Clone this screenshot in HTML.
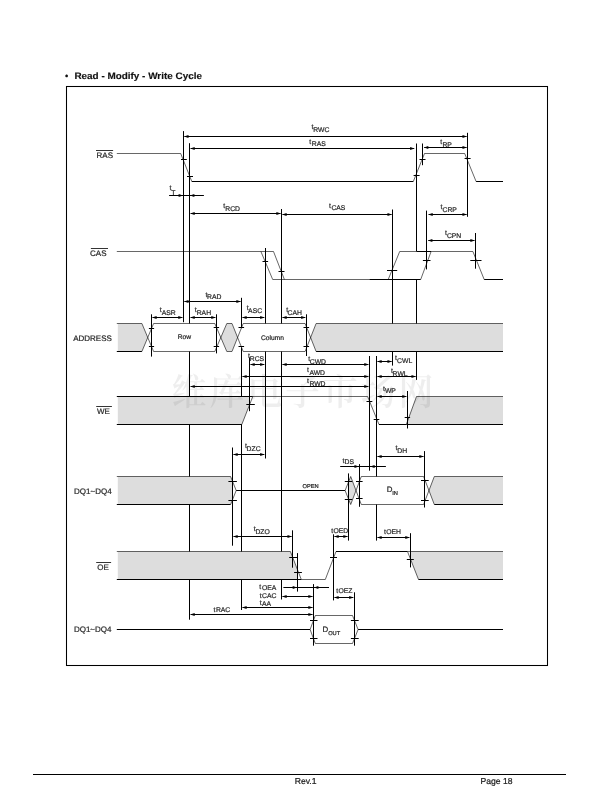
<!DOCTYPE html>
<html lang="en"><head><meta charset="utf-8"><title>Read - Modify - Write Cycle</title>
<style>html,body{margin:0;padding:0;background:#fff}body{width:612px;height:792px;overflow:hidden;position:relative}svg{position:absolute;left:0;top:0;display:block;will-change:transform}text{font-family:"Liberation Sans","Noto Sans CJK SC",sans-serif;text-rendering:geometricPrecision}.wm{font-family:"Liberation Serif","Noto Serif CJK SC",serif}</style></head><body>
<svg width="612" height="792" viewBox="0 0 612 792">
<rect x="0" y="0" width="612" height="792" fill="#fff"/>
<text x="65" y="79" font-size="9.4" text-anchor="start" font-weight="bold" fill="#111" stroke="#111" stroke-width="0.15">•</text>
<text x="74.4" y="78.7" font-size="9.4" text-anchor="start" font-weight="bold" fill="#111" stroke="#111" stroke-width="0.15" textLength="127.6" lengthAdjust="spacingAndGlyphs">Read - Modify - Write Cycle</text>
<rect x="66.5" y="86.5" width="481" height="579" fill="none" stroke="#000" stroke-width="1.05"/>
<line x1="33" y1="774.5" x2="566" y2="774.5" stroke="#000" stroke-width="1"/>
<text x="294.7" y="783.7" font-size="8.6" text-anchor="start" font-weight="normal" fill="#222" stroke="#222" stroke-width="0.22">Rev.1</text>
<text x="480.5" y="783.6" font-size="8.6" text-anchor="start" font-weight="normal" fill="#222" stroke="#222" stroke-width="0.22">Page 18</text>
<line x1="183.5" y1="131.1" x2="183.5" y2="322.2" stroke="#000" stroke-width="1.0"/>
<line x1="189.5" y1="143.2" x2="189.5" y2="619.7" stroke="#000" stroke-width="1.0"/>
<line x1="241.5" y1="297.8" x2="241.5" y2="610" stroke="#000" stroke-width="1.0"/>
<line x1="265.5" y1="248" x2="265.5" y2="458.5" stroke="#000" stroke-width="1.0"/>
<line x1="281.5" y1="209" x2="281.5" y2="599.5" stroke="#000" stroke-width="1.0"/>
<line x1="392.5" y1="209.5" x2="392.5" y2="365.6" stroke="#000" stroke-width="1.0"/>
<line x1="416.5" y1="143.5" x2="416.5" y2="251.5" stroke="#000" stroke-width="1.0"/>
<line x1="416.5" y1="279.3" x2="416.5" y2="379.9" stroke="#000" stroke-width="1.0"/>
<line x1="376.5" y1="356" x2="376.5" y2="540.6" stroke="#000" stroke-width="1.0"/>
<polygon points="117.8,323.5 141.9,323.5 147.7,337.5 141.9,351.5 117.8,351.5" fill="#dddddd" stroke="none"/>
<polygon points="147.7,337.5 153.6,323.5 214.8,323.5 220.8,337.5 214.8,351.5 153.6,351.5" fill="#fff" stroke="none"/>
<polygon points="220.8,337.5 226.8,323.5 232,323.5 237.6,337.5 232,351.5 226.8,351.5" fill="#dddddd" stroke="none"/>
<polygon points="237.6,337.5 243.2,323.5 305.1,323.5 310.6,337.5 305.1,351.5 243.2,351.5" fill="#fff" stroke="none"/>
<polygon points="310.6,337.5 316.1,323.5 503,323.5 503,351.5 316.1,351.5" fill="#dddddd" stroke="none"/>
<polygon points="117.8,396.5 249.5,396.5 249.5,404.9 241.8,424.5 117.8,424.5" fill="#dddddd" stroke="none"/>
<polygon points="416.5,396.5 503,396.5 503,424.5 406.3,424.5" fill="#dddddd" stroke="none"/>
<polygon points="117.8,476.5 230.6,476.5 232.5,481 232.5,500 230.6,504.5 117.8,504.5" fill="#dddddd" stroke="none"/>
<polygon points="348.5,482 350.7,476.5 356,490.5 350.7,504.5 348.5,499" fill="#dddddd" stroke="none"/>
<polygon points="356,490.5 361.3,476.5 423.6,476.5 428.9,490.5 423.6,504.5 361.3,504.5" fill="#fff" stroke="none"/>
<polygon points="428.9,490.5 434.3,476.5 503,476.5 503,504.5 434.3,504.5" fill="#dddddd" stroke="none"/>
<polygon points="117.8,551.5 290.4,551.5 297.4,569.5 297.4,579.5 117.8,579.5" fill="#dddddd" stroke="none"/>
<polygon points="410.4,551.5 503,551.5 503,579.5 418.5,579.5 410.4,558.9" fill="#dddddd" stroke="none"/>
<g transform="translate(171.6,0) scale(0.945,1)"><text class="wm" x="0" y="404.5" font-size="37" font-weight="600" fill="#000" fill-opacity="0.065" textLength="277" lengthAdjust="spacing">维库电子市场网</text></g>
<polyline points="116.8,153.5 180.7,153.5 191.8,181.5" fill="none" stroke="#000" stroke-width="0.6" stroke-linejoin="miter"/>
<line x1="191.8" y1="181.5" x2="413.3" y2="181.5" stroke="#000" stroke-width="1.0"/>
<polyline points="413.3,181.5 424.5,153.5 464.7,153.5 476.1,181.5" fill="none" stroke="#000" stroke-width="0.6" stroke-linejoin="miter"/>
<line x1="476.1" y1="181.5" x2="503" y2="181.5" stroke="#000" stroke-width="1.0"/>
<polyline points="116.8,251.5 273.5,251.5 284.4,279.5" fill="none" stroke="#000" stroke-width="0.6" stroke-linejoin="miter"/>
<polyline points="260.9,251.5 272.7,279.5 369.4,279.5" fill="none" stroke="#000" stroke-width="0.6" stroke-linejoin="miter"/>
<line x1="369.4" y1="279.5" x2="420.7" y2="279.5" stroke="#000" stroke-width="1.0"/>
<polyline points="388.2,279.5 399.7,251.5 416.7,251.5" fill="none" stroke="#000" stroke-width="0.6" stroke-linejoin="miter"/>
<line x1="416.7" y1="251.5" x2="431.1" y2="251.5" stroke="#000" stroke-width="1.0"/>
<polyline points="420.7,279.5 431.1,251.5 472.9,251.5 484.2,279.5" fill="none" stroke="#000" stroke-width="0.6" stroke-linejoin="miter"/>
<line x1="484.2" y1="279.5" x2="503" y2="279.5" stroke="#000" stroke-width="1.0"/>
<line x1="116.8" y1="323.5" x2="141.9" y2="323.5" stroke="#000" stroke-width="0.6"/>
<line x1="116.8" y1="351.5" x2="141.9" y2="351.5" stroke="#000" stroke-width="1.0"/>
<line x1="141.9" y1="323.5" x2="153.6" y2="351.5" stroke="#000" stroke-width="0.6"/>
<line x1="141.9" y1="351.5" x2="153.6" y2="323.5" stroke="#000" stroke-width="0.6"/>
<line x1="153.6" y1="323.5" x2="214.8" y2="323.5" stroke="#000" stroke-width="0.6"/>
<line x1="153.6" y1="351.5" x2="214.8" y2="351.5" stroke="#000" stroke-width="0.6"/>
<line x1="214.8" y1="323.5" x2="226.8" y2="351.5" stroke="#000" stroke-width="0.6"/>
<line x1="214.8" y1="351.5" x2="226.8" y2="323.5" stroke="#000" stroke-width="0.6"/>
<line x1="226.8" y1="323.5" x2="232" y2="323.5" stroke="#000" stroke-width="0.6"/>
<line x1="226.8" y1="351.5" x2="232" y2="351.5" stroke="#000" stroke-width="0.6"/>
<line x1="232" y1="323.5" x2="243.2" y2="351.5" stroke="#000" stroke-width="0.6"/>
<line x1="232" y1="351.5" x2="243.2" y2="323.5" stroke="#000" stroke-width="0.6"/>
<line x1="243.2" y1="323.5" x2="305.1" y2="323.5" stroke="#000" stroke-width="0.6"/>
<line x1="243.2" y1="351.5" x2="305.1" y2="351.5" stroke="#000" stroke-width="0.6"/>
<line x1="305.1" y1="323.5" x2="316.1" y2="351.5" stroke="#000" stroke-width="0.6"/>
<line x1="305.1" y1="351.5" x2="316.1" y2="323.5" stroke="#000" stroke-width="0.6"/>
<line x1="316.1" y1="323.5" x2="503" y2="323.5" stroke="#000" stroke-width="0.6"/>
<line x1="316.1" y1="351.5" x2="503" y2="351.5" stroke="#000" stroke-width="1.0"/>
<line x1="116.8" y1="396.5" x2="252.8" y2="396.5" stroke="#000" stroke-width="1.0"/>
<line x1="116.8" y1="424.5" x2="241.8" y2="424.5" stroke="#000" stroke-width="1.0"/>
<line x1="252.8" y1="396.5" x2="241.8" y2="424.5" stroke="#000" stroke-width="0.6"/>
<polyline points="252.8,396.5 367.6,396.5 379,424.5" fill="none" stroke="#000" stroke-width="0.6" stroke-linejoin="miter"/>
<line x1="379" y1="424.5" x2="406.3" y2="424.5" stroke="#000" stroke-width="1.0"/>
<line x1="406.3" y1="424.5" x2="416.5" y2="396.5" stroke="#000" stroke-width="0.6"/>
<line x1="416.5" y1="396.5" x2="503" y2="396.5" stroke="#000" stroke-width="0.6"/>
<line x1="406.3" y1="424.5" x2="503" y2="424.5" stroke="#000" stroke-width="1.0"/>
<line x1="116.8" y1="476.5" x2="230.6" y2="476.5" stroke="#000" stroke-width="0.6"/>
<line x1="116.8" y1="504.5" x2="230.6" y2="504.5" stroke="#000" stroke-width="1.0"/>
<polyline points="230.6,476.5 236.2,490.5 230.6,504.5" fill="none" stroke="#000" stroke-width="0.6" stroke-linejoin="miter"/>
<line x1="236.2" y1="490.5" x2="345.1" y2="490.5" stroke="#000" stroke-width="1.0"/>
<polyline points="345.1,490.5 350.7,476.5 361.3,504.5 423.6,504.5 434.3,476.5" fill="none" stroke="#000" stroke-width="0.6" stroke-linejoin="miter"/>
<polyline points="345.1,490.5 350.7,504.5 361.3,476.5 423.6,476.5 434.3,504.5" fill="none" stroke="#000" stroke-width="0.6" stroke-linejoin="miter"/>
<line x1="434.3" y1="476.5" x2="503" y2="476.5" stroke="#000" stroke-width="0.6"/>
<line x1="434.3" y1="504.5" x2="503" y2="504.5" stroke="#000" stroke-width="1.0"/>
<line x1="116.8" y1="551.5" x2="290.4" y2="551.5" stroke="#000" stroke-width="0.6"/>
<line x1="116.8" y1="579.5" x2="301.3" y2="579.5" stroke="#000" stroke-width="1.0"/>
<polyline points="290.4,551.5 301.3,579.5 325.3,579.5 336,551.5" fill="none" stroke="#000" stroke-width="0.6" stroke-linejoin="miter"/>
<line x1="336" y1="551.5" x2="407.5" y2="551.5" stroke="#000" stroke-width="1.0"/>
<line x1="407.5" y1="551.5" x2="418.5" y2="579.5" stroke="#000" stroke-width="0.6"/>
<line x1="407.5" y1="551.5" x2="503" y2="551.5" stroke="#000" stroke-width="0.6"/>
<line x1="418.5" y1="579.5" x2="503" y2="579.5" stroke="#000" stroke-width="1.0"/>
<line x1="116.8" y1="629.5" x2="310.1" y2="629.5" stroke="#000" stroke-width="1.0"/>
<polyline points="310.1,629.5 315.3,615.5 352.5,615.5 358.1,629.5 352.5,643.5 315.3,643.5 310.1,629.5" fill="none" stroke="#000" stroke-width="0.6" stroke-linejoin="miter"/>
<line x1="358.1" y1="629.5" x2="503" y2="629.5" stroke="#000" stroke-width="1.0"/>
<line x1="249.5" y1="357.5" x2="249.5" y2="411.2" stroke="#000" stroke-width="1.0"/>
<line x1="422.5" y1="143.5" x2="422.5" y2="165.2" stroke="#000" stroke-width="1.0"/>
<line x1="467.5" y1="132.8" x2="467.5" y2="216.8" stroke="#000" stroke-width="1.0"/>
<line x1="426.5" y1="210.6" x2="426.5" y2="269.4" stroke="#000" stroke-width="1.0"/>
<line x1="475.5" y1="233" x2="475.5" y2="268.7" stroke="#000" stroke-width="1.0"/>
<line x1="151.5" y1="314.3" x2="151.5" y2="356.6" stroke="#000" stroke-width="1.0"/>
<line x1="216.5" y1="314.3" x2="216.5" y2="353.4" stroke="#000" stroke-width="1.0"/>
<line x1="306.5" y1="314.3" x2="306.5" y2="356" stroke="#000" stroke-width="1.0"/>
<line x1="369.5" y1="356" x2="369.5" y2="470.7" stroke="#000" stroke-width="1.0"/>
<line x1="407.5" y1="391" x2="407.5" y2="428.5" stroke="#000" stroke-width="1.0"/>
<line x1="424.5" y1="451.1" x2="424.5" y2="507.5" stroke="#000" stroke-width="1.0"/>
<line x1="232.5" y1="447.5" x2="232.5" y2="545.7" stroke="#000" stroke-width="1.0"/>
<line x1="348.5" y1="473.4" x2="348.5" y2="540.6" stroke="#000" stroke-width="1.0"/>
<line x1="359.5" y1="464.1" x2="359.5" y2="506.8" stroke="#000" stroke-width="1.0"/>
<line x1="292.5" y1="530.3" x2="292.5" y2="567.7" stroke="#000" stroke-width="1.0"/>
<line x1="297.5" y1="553.1" x2="297.5" y2="591.6" stroke="#000" stroke-width="1.0"/>
<line x1="333.5" y1="534.3" x2="333.5" y2="600.4" stroke="#000" stroke-width="1.0"/>
<line x1="410.5" y1="533.2" x2="410.5" y2="567.4" stroke="#000" stroke-width="1.0"/>
<line x1="313.5" y1="584.1" x2="313.5" y2="645.7" stroke="#000" stroke-width="1.0"/>
<line x1="354.5" y1="592.3" x2="354.5" y2="645.7" stroke="#000" stroke-width="1.0"/>
<line x1="181" y1="159.5" x2="186.8" y2="159.5" stroke="#000" stroke-width="1.0"/>
<line x1="187" y1="176.5" x2="193" y2="176.5" stroke="#000" stroke-width="1.0"/>
<line x1="413.6" y1="175.5" x2="419.6" y2="175.5" stroke="#000" stroke-width="1.0"/>
<line x1="419.5" y1="159.5" x2="425.5" y2="159.5" stroke="#000" stroke-width="1.0"/>
<line x1="464.6" y1="158.5" x2="470.6" y2="158.5" stroke="#000" stroke-width="1.0"/>
<line x1="262.5" y1="261.5" x2="268.1" y2="261.5" stroke="#000" stroke-width="1.0"/>
<line x1="278.5" y1="271.5" x2="284.5" y2="271.5" stroke="#000" stroke-width="1.0"/>
<line x1="387" y1="270.5" x2="397.2" y2="270.5" stroke="#000" stroke-width="1.0"/>
<line x1="422.9" y1="260.5" x2="430.5" y2="260.5" stroke="#000" stroke-width="1.0"/>
<line x1="470.3" y1="260.5" x2="481.5" y2="260.5" stroke="#000" stroke-width="1.0"/>
<line x1="148.9" y1="328.5" x2="154.1" y2="328.5" stroke="#000" stroke-width="1.0"/>
<line x1="148.9" y1="346.5" x2="154.1" y2="346.5" stroke="#000" stroke-width="1.0"/>
<line x1="213.7" y1="327.5" x2="219.1" y2="327.5" stroke="#000" stroke-width="1.0"/>
<line x1="213.7" y1="346.5" x2="219.1" y2="346.5" stroke="#000" stroke-width="1.0"/>
<line x1="238.5" y1="327.5" x2="244.1" y2="327.5" stroke="#000" stroke-width="1.0"/>
<line x1="238.5" y1="346.5" x2="244.1" y2="346.5" stroke="#000" stroke-width="1.0"/>
<line x1="303.5" y1="327.5" x2="309.1" y2="327.5" stroke="#000" stroke-width="1.0"/>
<line x1="303.5" y1="346.5" x2="309.1" y2="346.5" stroke="#000" stroke-width="1.0"/>
<line x1="246.3" y1="404.5" x2="254.8" y2="404.5" stroke="#000" stroke-width="1.0"/>
<line x1="366.5" y1="401.5" x2="372.3" y2="401.5" stroke="#000" stroke-width="1.0"/>
<line x1="373.7" y1="419.5" x2="379.3" y2="419.5" stroke="#000" stroke-width="1.0"/>
<line x1="404.7" y1="417.5" x2="410.1" y2="417.5" stroke="#000" stroke-width="1.0"/>
<line x1="228.4" y1="481.5" x2="236.9" y2="481.5" stroke="#000" stroke-width="1.0"/>
<line x1="228.4" y1="500.5" x2="236.9" y2="500.5" stroke="#000" stroke-width="1.0"/>
<line x1="344.8" y1="481.5" x2="352.2" y2="481.5" stroke="#000" stroke-width="1.0"/>
<line x1="344.8" y1="499.5" x2="352.2" y2="499.5" stroke="#000" stroke-width="1.0"/>
<line x1="356" y1="481.5" x2="362.6" y2="481.5" stroke="#000" stroke-width="1.0"/>
<line x1="356" y1="498.5" x2="362.6" y2="498.5" stroke="#000" stroke-width="1.0"/>
<line x1="421" y1="480.5" x2="428.7" y2="480.5" stroke="#000" stroke-width="1.0"/>
<line x1="421" y1="500.5" x2="428.7" y2="500.5" stroke="#000" stroke-width="1.0"/>
<line x1="289.2" y1="557.5" x2="297" y2="557.5" stroke="#000" stroke-width="1.0"/>
<line x1="294.1" y1="572.5" x2="301.9" y2="572.5" stroke="#000" stroke-width="1.0"/>
<line x1="330" y1="557.5" x2="337" y2="557.5" stroke="#000" stroke-width="1.0"/>
<line x1="406.8" y1="559.5" x2="413.8" y2="559.5" stroke="#000" stroke-width="1.0"/>
<line x1="310" y1="620.5" x2="317.5" y2="620.5" stroke="#000" stroke-width="1.0"/>
<line x1="310" y1="638.5" x2="317.5" y2="638.5" stroke="#000" stroke-width="1.0"/>
<line x1="350.9" y1="620.5" x2="358.7" y2="620.5" stroke="#000" stroke-width="1.0"/>
<line x1="350.9" y1="638.5" x2="358.7" y2="638.5" stroke="#000" stroke-width="1.0"/>
<line x1="184.4" y1="136.5" x2="466.6" y2="136.5" stroke="#000" stroke-width="1.0"/>
<polygon points="184.1,136.5 188.5,135 188.5,138" fill="#000" stroke="none"/>
<polygon points="466.9,136.5 462.5,135 462.5,138" fill="#000" stroke="none"/>
<line x1="190.6" y1="148.5" x2="414.2" y2="148.5" stroke="#000" stroke-width="1.0"/>
<polygon points="190.3,148.5 194.7,147 194.7,150" fill="#000" stroke="none"/>
<polygon points="414.5,148.5 410.1,147 410.1,150" fill="#000" stroke="none"/>
<line x1="424.2" y1="147.5" x2="466.6" y2="147.5" stroke="#000" stroke-width="1.0"/>
<polygon points="423.9,147.5 428.3,146 428.3,149" fill="#000" stroke="none"/>
<polygon points="466.9,147.5 462.5,146 462.5,149" fill="#000" stroke="none"/>
<line x1="169.1" y1="195.5" x2="203.9" y2="195.5" stroke="#000" stroke-width="1.0"/>
<polygon points="183,195.5 178.6,194 178.6,197" fill="#000" stroke="none"/>
<polygon points="190,195.5 194.4,194 194.4,197" fill="#000" stroke="none"/>
<line x1="190.6" y1="213.5" x2="280.5" y2="213.5" stroke="#000" stroke-width="1.0"/>
<polygon points="190.3,213.5 194.7,212 194.7,215" fill="#000" stroke="none"/>
<polygon points="280.8,213.5 276.4,212 276.4,215" fill="#000" stroke="none"/>
<line x1="282.5" y1="214.5" x2="391.6" y2="214.5" stroke="#000" stroke-width="1.0"/>
<polygon points="282.2,214.5 286.6,213 286.6,216" fill="#000" stroke="none"/>
<polygon points="391.9,214.5 387.5,213 387.5,216" fill="#000" stroke="none"/>
<line x1="428.6" y1="214.5" x2="466.6" y2="214.5" stroke="#000" stroke-width="1.0"/>
<polygon points="428.3,214.5 432.7,213 432.7,216" fill="#000" stroke="none"/>
<polygon points="466.9,214.5 462.5,213 462.5,216" fill="#000" stroke="none"/>
<line x1="428.3" y1="240.5" x2="474.5" y2="240.5" stroke="#000" stroke-width="1.0"/>
<polygon points="428,240.5 432.4,239 432.4,242" fill="#000" stroke="none"/>
<polygon points="474.8,240.5 470.4,239 470.4,242" fill="#000" stroke="none"/>
<line x1="184.4" y1="301.5" x2="240.5" y2="301.5" stroke="#000" stroke-width="1.0"/>
<polygon points="184.1,301.5 188.5,300 188.5,303" fill="#000" stroke="none"/>
<polygon points="240.8,301.5 236.4,300 236.4,303" fill="#000" stroke="none"/>
<line x1="152.5" y1="317.5" x2="182.4" y2="317.5" stroke="#000" stroke-width="1.0"/>
<polygon points="152.2,317.5 156.6,316 156.6,319" fill="#000" stroke="none"/>
<polygon points="182.7,317.5 178.3,316 178.3,319" fill="#000" stroke="none"/>
<line x1="190.6" y1="317.5" x2="215.4" y2="317.5" stroke="#000" stroke-width="1.0"/>
<polygon points="190.3,317.5 194.7,316 194.7,319" fill="#000" stroke="none"/>
<polygon points="215.7,317.5 211.3,316 211.3,319" fill="#000" stroke="none"/>
<line x1="242.5" y1="317.5" x2="264.3" y2="317.5" stroke="#000" stroke-width="1.0"/>
<polygon points="242.2,317.5 246.6,316 246.6,319" fill="#000" stroke="none"/>
<polygon points="264.6,317.5 260.2,316 260.2,319" fill="#000" stroke="none"/>
<line x1="282.5" y1="317.5" x2="305.3" y2="317.5" stroke="#000" stroke-width="1.0"/>
<polygon points="282.2,317.5 286.6,316 286.6,319" fill="#000" stroke="none"/>
<polygon points="305.6,317.5 301.2,316 301.2,319" fill="#000" stroke="none"/>
<line x1="250.5" y1="364.5" x2="264.3" y2="364.5" stroke="#000" stroke-width="1.0"/>
<polygon points="250.2,364.5 254.6,363 254.6,366" fill="#000" stroke="none"/>
<polygon points="264.6,364.5 260.2,363 260.2,366" fill="#000" stroke="none"/>
<line x1="282.5" y1="364.5" x2="368.4" y2="364.5" stroke="#000" stroke-width="1.0"/>
<polygon points="282.2,364.5 286.6,363 286.6,366" fill="#000" stroke="none"/>
<polygon points="368.7,364.5 364.3,363 364.3,366" fill="#000" stroke="none"/>
<line x1="242.5" y1="376.5" x2="368.4" y2="376.5" stroke="#000" stroke-width="1.0"/>
<polygon points="242.2,376.5 246.6,375 246.6,378" fill="#000" stroke="none"/>
<polygon points="368.7,376.5 364.3,375 364.3,378" fill="#000" stroke="none"/>
<line x1="190.6" y1="386.5" x2="368.4" y2="386.5" stroke="#000" stroke-width="1.0"/>
<polygon points="190.3,386.5 194.7,385 194.7,388" fill="#000" stroke="none"/>
<polygon points="368.7,386.5 364.3,385 364.3,388" fill="#000" stroke="none"/>
<line x1="377.5" y1="361.5" x2="391.6" y2="361.5" stroke="#000" stroke-width="1.0"/>
<polygon points="377.2,361.5 381.6,360 381.6,363" fill="#000" stroke="none"/>
<polygon points="391.9,361.5 387.5,360 387.5,363" fill="#000" stroke="none"/>
<line x1="377.5" y1="376.5" x2="415.6" y2="376.5" stroke="#000" stroke-width="1.0"/>
<polygon points="377.2,376.5 381.6,375 381.6,378" fill="#000" stroke="none"/>
<polygon points="415.9,376.5 411.5,375 411.5,378" fill="#000" stroke="none"/>
<line x1="377.5" y1="396.5" x2="406.4" y2="396.5" stroke="#000" stroke-width="1.0"/>
<polygon points="377.2,396.5 381.6,395 381.6,398" fill="#000" stroke="none"/>
<polygon points="406.7,396.5 402.3,395 402.3,398" fill="#000" stroke="none"/>
<line x1="233.5" y1="454.5" x2="264.3" y2="454.5" stroke="#000" stroke-width="1.0"/>
<polygon points="233.2,454.5 237.6,453 237.6,456" fill="#000" stroke="none"/>
<polygon points="264.6,454.5 260.2,453 260.2,456" fill="#000" stroke="none"/>
<line x1="377.5" y1="456.5" x2="423.5" y2="456.5" stroke="#000" stroke-width="1.0"/>
<polygon points="377.2,456.5 381.6,455 381.6,458" fill="#000" stroke="none"/>
<polygon points="423.8,456.5 419.4,455 419.4,458" fill="#000" stroke="none"/>
<line x1="340.2" y1="466.5" x2="385.9" y2="466.5" stroke="#000" stroke-width="1.0"/>
<polygon points="358.9,466.5 354.5,465 354.5,468" fill="#000" stroke="none"/>
<polygon points="370.2,466.5 374.6,465 374.6,468" fill="#000" stroke="none"/>
<line x1="233.5" y1="536.5" x2="291.6" y2="536.5" stroke="#000" stroke-width="1.0"/>
<polygon points="233.2,536.5 237.6,535 237.6,538" fill="#000" stroke="none"/>
<polygon points="291.9,536.5 287.5,535 287.5,538" fill="#000" stroke="none"/>
<line x1="334.5" y1="536.5" x2="347.5" y2="536.5" stroke="#000" stroke-width="1.0"/>
<polygon points="334.2,536.5 338.6,535 338.6,538" fill="#000" stroke="none"/>
<polygon points="347.8,536.5 343.4,535 343.4,538" fill="#000" stroke="none"/>
<line x1="377.5" y1="537.5" x2="409.4" y2="537.5" stroke="#000" stroke-width="1.0"/>
<polygon points="377.2,537.5 381.6,536 381.6,539" fill="#000" stroke="none"/>
<polygon points="409.7,537.5 405.3,536 405.3,539" fill="#000" stroke="none"/>
<line x1="283.4" y1="587.5" x2="329" y2="587.5" stroke="#000" stroke-width="1.0"/>
<polygon points="297.1,587.5 292.7,586 292.7,589" fill="#000" stroke="none"/>
<polygon points="314,587.5 318.4,586 318.4,589" fill="#000" stroke="none"/>
<line x1="282.5" y1="596.5" x2="312.5" y2="596.5" stroke="#000" stroke-width="1.0"/>
<polygon points="282.2,596.5 286.6,595 286.6,598" fill="#000" stroke="none"/>
<polygon points="312.8,596.5 308.4,595 308.4,598" fill="#000" stroke="none"/>
<line x1="242.5" y1="607.5" x2="312.5" y2="607.5" stroke="#000" stroke-width="1.0"/>
<polygon points="242.2,607.5 246.6,606 246.6,609" fill="#000" stroke="none"/>
<polygon points="312.8,607.5 308.4,606 308.4,609" fill="#000" stroke="none"/>
<line x1="190.6" y1="614.5" x2="312.5" y2="614.5" stroke="#000" stroke-width="1.0"/>
<polygon points="190.3,614.5 194.7,613 194.7,616" fill="#000" stroke="none"/>
<polygon points="312.8,614.5 308.4,613 308.4,616" fill="#000" stroke="none"/>
<line x1="334.5" y1="597.5" x2="353.3" y2="597.5" stroke="#000" stroke-width="1.0"/>
<polygon points="334.2,597.5 338.6,596 338.6,599" fill="#000" stroke="none"/>
<polygon points="353.6,597.5 349.2,596 349.2,599" fill="#000" stroke="none"/>
<text x="113" y="157.8" font-size="8.0" text-anchor="end" font-weight="normal" fill="#2a2a2a" stroke="#2a2a2a" stroke-width="0.22">RAS</text>
<line x1="96" y1="150.5" x2="113.1" y2="150.5" stroke="#000" stroke-width="0.8"/>
<text x="106.5" y="255.7" font-size="8.0" text-anchor="end" font-weight="normal" fill="#2a2a2a" stroke="#2a2a2a" stroke-width="0.22">CAS</text>
<line x1="90.9" y1="248.5" x2="108" y2="248.5" stroke="#000" stroke-width="0.8"/>
<text x="111.9" y="340.8" font-size="8.0" text-anchor="end" font-weight="normal" fill="#2a2a2a" stroke="#2a2a2a" stroke-width="0.22">ADDRESS</text>
<text x="109.8" y="413.8" font-size="8.0" text-anchor="end" font-weight="normal" fill="#2a2a2a" stroke="#2a2a2a" stroke-width="0.22">WE</text>
<line x1="96.2" y1="406.5" x2="111.9" y2="406.5" stroke="#000" stroke-width="0.8"/>
<text x="111.6" y="493.8" font-size="8.0" text-anchor="end" font-weight="normal" fill="#2a2a2a" stroke="#2a2a2a" stroke-width="0.22">DQ1~DQ4</text>
<text x="108.8" y="569.6" font-size="8.0" text-anchor="end" font-weight="normal" fill="#2a2a2a" stroke="#2a2a2a" stroke-width="0.22">OE</text>
<line x1="96.2" y1="562.5" x2="111.1" y2="562.5" stroke="#000" stroke-width="0.8"/>
<text x="111.5" y="631.6" font-size="8.0" text-anchor="end" font-weight="normal" fill="#2a2a2a" stroke="#2a2a2a" stroke-width="0.22">DQ1~DQ4</text>
<text x="311.6" y="129.1" font-size="6.8" text-anchor="start" font-weight="normal" fill="#2a2a2a" stroke="#2a2a2a" stroke-width="0.22">t</text>
<text x="313.2" y="131.7" font-size="6.8" text-anchor="start" font-weight="normal" fill="#2a2a2a" stroke="#2a2a2a" stroke-width="0.22">RWC</text>
<text x="309.2" y="143.8" font-size="6.8" text-anchor="start" font-weight="normal" fill="#2a2a2a" stroke="#2a2a2a" stroke-width="0.22">t</text>
<text x="311.8" y="146.4" font-size="6.8" text-anchor="start" font-weight="normal" fill="#2a2a2a" stroke="#2a2a2a" stroke-width="0.22">RAS</text>
<text x="440.2" y="144" font-size="6.8" text-anchor="start" font-weight="normal" fill="#2a2a2a" stroke="#2a2a2a" stroke-width="0.22">t</text>
<text x="442.4" y="146.6" font-size="6.8" text-anchor="start" font-weight="normal" fill="#2a2a2a" stroke="#2a2a2a" stroke-width="0.22">RP</text>
<text x="169.6" y="190.2" font-size="6.8" text-anchor="start" font-weight="normal" fill="#2a2a2a" stroke="#2a2a2a" stroke-width="0.22">t</text>
<text x="171.3" y="194.6" font-size="6.8" text-anchor="start" font-weight="normal" fill="#2a2a2a" stroke="#2a2a2a" stroke-width="0.22">T</text>
<text x="223.3" y="208.1" font-size="6.8" text-anchor="start" font-weight="normal" fill="#2a2a2a" stroke="#2a2a2a" stroke-width="0.22">t</text>
<text x="225.3" y="210.7" font-size="6.8" text-anchor="start" font-weight="normal" fill="#2a2a2a" stroke="#2a2a2a" stroke-width="0.22">RCD</text>
<text x="329" y="207.7" font-size="6.8" text-anchor="start" font-weight="normal" fill="#2a2a2a" stroke="#2a2a2a" stroke-width="0.22">t</text>
<text x="331.4" y="210.3" font-size="6.8" text-anchor="start" font-weight="normal" fill="#2a2a2a" stroke="#2a2a2a" stroke-width="0.22">CAS</text>
<text x="440.6" y="209" font-size="6.8" text-anchor="start" font-weight="normal" fill="#2a2a2a" stroke="#2a2a2a" stroke-width="0.22">t</text>
<text x="442.5" y="211.6" font-size="6.8" text-anchor="start" font-weight="normal" fill="#2a2a2a" stroke="#2a2a2a" stroke-width="0.22">CRP</text>
<text x="445" y="235.1" font-size="6.8" text-anchor="start" font-weight="normal" fill="#2a2a2a" stroke="#2a2a2a" stroke-width="0.22">t</text>
<text x="446.9" y="237.7" font-size="6.8" text-anchor="start" font-weight="normal" fill="#2a2a2a" stroke="#2a2a2a" stroke-width="0.22">CPN</text>
<text x="205.5" y="296.8" font-size="6.8" text-anchor="start" font-weight="normal" fill="#2a2a2a" stroke="#2a2a2a" stroke-width="0.22">t</text>
<text x="207" y="299.4" font-size="6.8" text-anchor="start" font-weight="normal" fill="#2a2a2a" stroke="#2a2a2a" stroke-width="0.22">RAD</text>
<text x="159.8" y="312.3" font-size="6.8" text-anchor="start" font-weight="normal" fill="#2a2a2a" stroke="#2a2a2a" stroke-width="0.22">t</text>
<text x="161.8" y="314.9" font-size="6.8" text-anchor="start" font-weight="normal" fill="#2a2a2a" stroke="#2a2a2a" stroke-width="0.22">ASR</text>
<text x="194.7" y="312.3" font-size="6.8" text-anchor="start" font-weight="normal" fill="#2a2a2a" stroke="#2a2a2a" stroke-width="0.22">t</text>
<text x="196.7" y="314.9" font-size="6.8" text-anchor="start" font-weight="normal" fill="#2a2a2a" stroke="#2a2a2a" stroke-width="0.22">RAH</text>
<text x="246.7" y="309.9" font-size="6.8" text-anchor="start" font-weight="normal" fill="#2a2a2a" stroke="#2a2a2a" stroke-width="0.22">t</text>
<text x="248.1" y="312.5" font-size="6.8" text-anchor="start" font-weight="normal" fill="#2a2a2a" stroke="#2a2a2a" stroke-width="0.22">ASC</text>
<text x="286.2" y="312.2" font-size="6.8" text-anchor="start" font-weight="normal" fill="#2a2a2a" stroke="#2a2a2a" stroke-width="0.22">t</text>
<text x="287.6" y="314.8" font-size="6.8" text-anchor="start" font-weight="normal" fill="#2a2a2a" stroke="#2a2a2a" stroke-width="0.22">CAH</text>
<text x="247.9" y="357.9" font-size="6.8" text-anchor="start" font-weight="normal" fill="#2a2a2a" stroke="#2a2a2a" stroke-width="0.22">t</text>
<text x="249.8" y="360.5" font-size="6.8" text-anchor="start" font-weight="normal" fill="#2a2a2a" stroke="#2a2a2a" stroke-width="0.22">RCS</text>
<text x="308.2" y="361" font-size="6.8" text-anchor="start" font-weight="normal" fill="#2a2a2a" stroke="#2a2a2a" stroke-width="0.22">t</text>
<text x="309.8" y="363.6" font-size="6.8" text-anchor="start" font-weight="normal" fill="#2a2a2a" stroke="#2a2a2a" stroke-width="0.22">CWD</text>
<text x="307" y="372.2" font-size="6.8" text-anchor="start" font-weight="normal" fill="#2a2a2a" stroke="#2a2a2a" stroke-width="0.22">t</text>
<text x="309.4" y="374.8" font-size="6.8" text-anchor="start" font-weight="normal" fill="#2a2a2a" stroke="#2a2a2a" stroke-width="0.22">AWD</text>
<text x="307" y="383.2" font-size="6.8" text-anchor="start" font-weight="normal" fill="#2a2a2a" stroke="#2a2a2a" stroke-width="0.22">t</text>
<text x="309.4" y="385.8" font-size="6.8" text-anchor="start" font-weight="normal" fill="#2a2a2a" stroke="#2a2a2a" stroke-width="0.22">RWD</text>
<text x="395.1" y="360.1" font-size="6.8" text-anchor="start" font-weight="normal" fill="#2a2a2a" stroke="#2a2a2a" stroke-width="0.22">t</text>
<text x="397.1" y="362.7" font-size="6.8" text-anchor="start" font-weight="normal" fill="#2a2a2a" stroke="#2a2a2a" stroke-width="0.22">CWL</text>
<text x="390.9" y="373.3" font-size="6.8" text-anchor="start" font-weight="normal" fill="#2a2a2a" stroke="#2a2a2a" stroke-width="0.22">t</text>
<text x="392.6" y="375.9" font-size="6.8" text-anchor="start" font-weight="normal" fill="#2a2a2a" stroke="#2a2a2a" stroke-width="0.22">RWL</text>
<text x="383.1" y="390.6" font-size="6.8" text-anchor="start" font-weight="normal" fill="#2a2a2a" stroke="#2a2a2a" stroke-width="0.22">t</text>
<text x="384.9" y="393.2" font-size="6.8" text-anchor="start" font-weight="normal" fill="#2a2a2a" stroke="#2a2a2a" stroke-width="0.22">WP</text>
<text x="395.6" y="449.9" font-size="6.8" text-anchor="start" font-weight="normal" fill="#2a2a2a" stroke="#2a2a2a" stroke-width="0.22">t</text>
<text x="397.3" y="452.5" font-size="6.8" text-anchor="start" font-weight="normal" fill="#2a2a2a" stroke="#2a2a2a" stroke-width="0.22">DH</text>
<text x="342.5" y="463.1" font-size="6.8" text-anchor="start" font-weight="normal" fill="#2a2a2a" stroke="#2a2a2a" stroke-width="0.22">t</text>
<text x="344.6" y="463.6" font-size="6.8" text-anchor="start" font-weight="normal" fill="#2a2a2a" stroke="#2a2a2a" stroke-width="0.22">DS</text>
<text x="245.1" y="447.9" font-size="6.8" text-anchor="start" font-weight="normal" fill="#2a2a2a" stroke="#2a2a2a" stroke-width="0.22">t</text>
<text x="246.6" y="450.5" font-size="6.8" text-anchor="start" font-weight="normal" fill="#2a2a2a" stroke="#2a2a2a" stroke-width="0.22">DZC</text>
<text x="253.7" y="530.9" font-size="6.8" text-anchor="start" font-weight="normal" fill="#2a2a2a" stroke="#2a2a2a" stroke-width="0.22">t</text>
<text x="255.4" y="533.5" font-size="6.8" text-anchor="start" font-weight="normal" fill="#2a2a2a" stroke="#2a2a2a" stroke-width="0.22">DZO</text>
<text x="331.3" y="532.9" font-size="6.8" text-anchor="start" font-weight="normal" fill="#2a2a2a" stroke="#2a2a2a" stroke-width="0.22">t</text>
<text x="333.5" y="532.9" font-size="6.8" text-anchor="start" font-weight="normal" fill="#2a2a2a" stroke="#2a2a2a" stroke-width="0.22">OED</text>
<text x="384" y="533.5" font-size="6.8" text-anchor="start" font-weight="normal" fill="#2a2a2a" stroke="#2a2a2a" stroke-width="0.22">t</text>
<text x="386.2" y="533.5" font-size="6.8" text-anchor="start" font-weight="normal" fill="#2a2a2a" stroke="#2a2a2a" stroke-width="0.22">OEH</text>
<text x="259.3" y="588.5" font-size="6.8" text-anchor="start" font-weight="normal" fill="#2a2a2a" stroke="#2a2a2a" stroke-width="0.22">t</text>
<text x="261.9" y="589.5" font-size="6.8" text-anchor="start" font-weight="normal" fill="#2a2a2a" stroke="#2a2a2a" stroke-width="0.22">OEA</text>
<text x="259.7" y="597.5" font-size="6.8" text-anchor="start" font-weight="normal" fill="#2a2a2a" stroke="#2a2a2a" stroke-width="0.22">t</text>
<text x="262.1" y="597.8" font-size="6.8" text-anchor="start" font-weight="normal" fill="#2a2a2a" stroke="#2a2a2a" stroke-width="0.22">CAC</text>
<text x="259.7" y="605.2" font-size="6.8" text-anchor="start" font-weight="normal" fill="#2a2a2a" stroke="#2a2a2a" stroke-width="0.22">t</text>
<text x="261.9" y="605.5" font-size="6.8" text-anchor="start" font-weight="normal" fill="#2a2a2a" stroke="#2a2a2a" stroke-width="0.22">AA</text>
<text x="213.6" y="611.5" font-size="6.8" text-anchor="start" font-weight="normal" fill="#2a2a2a" stroke="#2a2a2a" stroke-width="0.22">t</text>
<text x="215.9" y="611.5" font-size="6.8" text-anchor="start" font-weight="normal" fill="#2a2a2a" stroke="#2a2a2a" stroke-width="0.22">RAC</text>
<text x="336.3" y="592.8" font-size="6.8" text-anchor="start" font-weight="normal" fill="#2a2a2a" stroke="#2a2a2a" stroke-width="0.22">t</text>
<text x="338.5" y="592.8" font-size="6.8" text-anchor="start" font-weight="normal" fill="#2a2a2a" stroke="#2a2a2a" stroke-width="0.22">OEZ</text>
<text x="184.4" y="338.6" font-size="6.7" text-anchor="middle" font-weight="normal" fill="#2a2a2a" stroke="#2a2a2a" stroke-width="0.22">Row</text>
<text x="272.5" y="339.7" font-size="6.7" text-anchor="middle" font-weight="normal" fill="#2a2a2a" stroke="#2a2a2a" stroke-width="0.22">Column</text>
<text x="310.6" y="487.9" font-size="5.7" text-anchor="middle" font-weight="normal" fill="#2a2a2a" stroke="#2a2a2a" stroke-width="0.22">OPEN</text>
<text x="386.7" y="491.7" font-size="7.9" text-anchor="start" font-weight="normal" fill="#2a2a2a" stroke="#2a2a2a" stroke-width="0.22">D</text>
<text x="392.2" y="494.7" font-size="5.7" text-anchor="start" font-weight="normal" fill="#2a2a2a" stroke="#2a2a2a" stroke-width="0.22">IN</text>
<text x="322.5" y="631.8" font-size="7.9" text-anchor="start" font-weight="normal" fill="#2a2a2a" stroke="#2a2a2a" stroke-width="0.22">D</text>
<text x="328.2" y="634.7" font-size="5.7" text-anchor="start" font-weight="normal" fill="#2a2a2a" stroke="#2a2a2a" stroke-width="0.22">OUT</text>
</svg></body></html>
